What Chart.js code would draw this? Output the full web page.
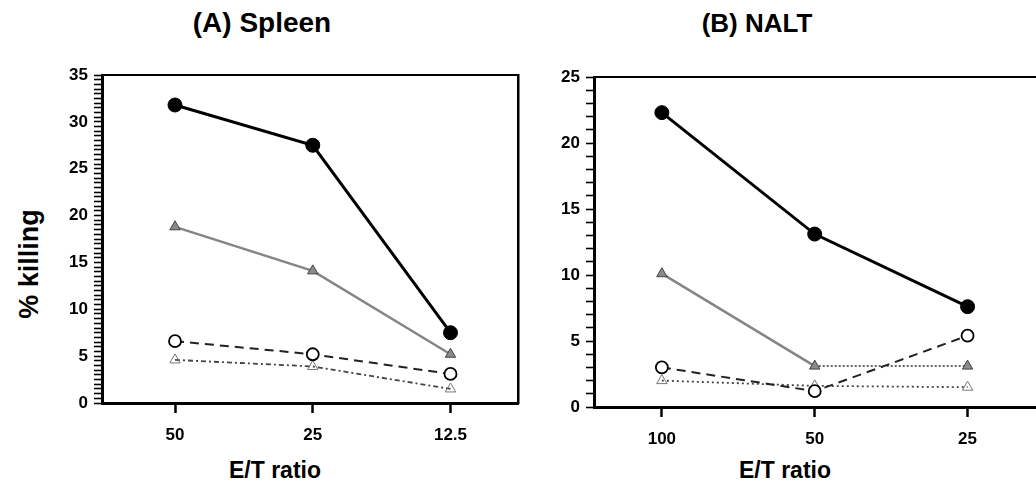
<!DOCTYPE html>
<html>
<head>
<meta charset="utf-8">
<script src="https://cdn.jsdelivr.net/npm/chart.js@4/dist/chart.umd.min.js"></script>
<style>
  html, body { margin:0; padding:0; background:#fff; overflow:hidden; width:1036px; height:495px; }
  .wrap { position:absolute; top:0; }
  .txt { position:absolute; transform:translate(-50%,-50%); font-family:"Liberation Sans", Arial, sans-serif; font-weight:bold; color:#000; white-space:nowrap; }
</style>
</head>
<body>
<div class="txt" style="left:262px; top:23px; font-size:28px;">(A) Spleen</div>
<div class="txt" style="left:757px; top:23px; font-size:26px;">(B) NALT</div>
<div class="txt" style="left:275px; top:470px; font-size:23px;">E/T ratio</div>
<div class="txt" style="left:785px; top:470px; font-size:23px;">E/T ratio</div>
<div class="txt" style="left:29px; top:264px; font-size:27px; transform:translate(-50%,-50%) rotate(-90deg);">% killing</div>
<div class="wrap" style="left:0px;"><canvas id="cA" width="560" height="495"></canvas></div>
<div class="wrap" style="left:560px;"><canvas id="cB" width="500" height="495"></canvas></div>
<script>
// ---- Data ----
const spleenRatios = ['50', '25', '12.5'];
const naltRatios = ['100', '50', '25'];

const spleenFilledCircle = [31.8, 27.5, 7.5];
const spleenHatchedTriangle = [18.8, 14.1, 5.2];
const spleenOpenCircle = [6.6, 5.2, 3.1];
const spleenOpenTriangle = [4.6, 3.9, 1.5];

const naltFilledCircle = [22.3, 13.1, 7.6];
const naltHatchedTriangle = [10.1, 3.1, 3.1];
const naltOpenCircle = [3.0, 1.2, 5.4];
const naltOpenTriangle = [2.0, 1.6, 1.5];

const spleenYMax = 35;
const naltYMax = 25;

// ---- Helpers ----
const FONT = '"Liberation Sans", Arial, sans-serif';
const pts = arr => arr.map((v, i) => ({ x: i, y: v }));

function datasets(filled, hatched, openC, openT, dottedSecondHatched) {
  return [
    { data: pts(filled), borderColor:'#000', borderWidth:3, pointStyle:'circle', pointRadius:7,
      pointBackgroundColor:'#000', pointBorderColor:'#000', pointBorderWidth:1 },
    { data: pts(hatched), borderColor:'#858585', borderWidth:2.5, pointStyle:'triangle', pointRadius:6,
      pointBackgroundColor:'#8a8a8a', pointBorderColor:'#444', pointBorderWidth:1,
      segment: dottedSecondHatched ? {
        borderDash: c => c.p0DataIndex === 1 ? [2, 2] : undefined,
        borderColor: c => c.p0DataIndex === 1 ? '#333' : undefined,
        borderWidth: c => c.p0DataIndex === 1 ? 1.5 : undefined
      } : undefined },
    { data: pts(openC), borderColor:'#222', borderWidth:2, borderDash:[9,6], pointStyle:'circle', pointRadius:6,
      pointBackgroundColor:'#fff', pointBorderColor:'#000', pointBorderWidth:1.8 },
    { data: pts(openT), borderColor:'#444', borderWidth:1.8, borderDash: dottedSecondHatched ? [2,3] : [5,3,2,3],
      pointStyle:'triangle', pointRadius:6,
      pointBackgroundColor:'rgba(255,255,255,0)', pointBorderColor:'#777', pointBorderWidth:1 }
  ];
}

function makeChart(id, cats, ds, yMax, yStep, geo) {
  const ctx = document.getElementById(id);
  return new Chart(ctx, {
    type: 'line',
    data: { datasets: ds.map(d => Object.assign({ fill:false, tension:0, clip:false }, d)) },
    options: {
      responsive:false, animation:false, devicePixelRatio:1,
      layout: { padding: { top: geo.top, right: geo.right, bottom: 0, left: 0 } },
      plugins: { legend:{ display:false }, tooltip:{ enabled:false }, title:{ display:false } },
      scales: {
        x: {
          type:'linear', position:'bottom', min: geo.xMin, max: geo.xMax,
          afterBuildTicks: s => { s.ticks = cats.map((c, i) => ({ value: i })); },
          afterFit: s => { s.height = geo.xHeight; },
          ticks: { callback: v => cats[v], color:'#000', padding:12, autoSkip:false, maxRotation:0,
                   font:{ family:FONT, size:17, weight:'bold' } },
          grid: { drawOnChartArea:false, drawTicks:true, tickLength:10, tickColor:'#000', tickWidth:2.5, color:'#000' },
          border: { display:true, color:'#000', width:3 }
        },
        y: {
          type:'linear', position:'left', min:0, max:yMax,
          afterFit: s => { s.width = geo.yWidth; },
          ticks: { stepSize: yStep, autoSkip:false, color:'#000', padding:6,
                   callback: v => (Math.abs(v / 5 - Math.round(v / 5)) < 1e-6 ? String(Math.round(v)) : ''),
                   font:{ family:FONT, size:17, weight:'bold' } },
          grid: { drawOnChartArea:false, drawTicks:true, tickLength:8, tickColor:'#000', tickWidth:1.6, color:'#000' },
          border: { display:true, color:'#000', width:3 }
        },
        xTop: {
          type:'linear', position:'top', min: geo.xMin, max: geo.xMax,
          afterFit: s => { s.height = 0; },
          ticks:{ display:false }, grid:{ display:false, drawTicks:false },
          border:{ display:true, color:'#000', width:2 }
        },
        yRight: {
          type:'linear', position:'right', min:0, max:yMax, display: geo.showRight,
          afterFit: s => { s.width = 0; },
          ticks:{ display:false }, grid:{ display:false, drawTicks:false },
          border:{ display:true, color:'#000', width:2.5 }
        }
      }
    }
  });
}

makeChart('cA', spleenRatios,
  datasets(spleenFilledCircle, spleenHatchedTriangle, spleenOpenCircle, spleenOpenTriangle, false),
  spleenYMax, 0.5,
  { top:75, right:42, xHeight:92, yWidth:102, xMin:-0.53, xMax:2.49, showRight:true });

makeChart('cB', naltRatios,
  datasets(naltFilledCircle, naltHatchedTriangle, naltOpenCircle, naltOpenTriangle, true),
  naltYMax, 1,
  { top:77, right:16, xHeight:88, yWidth:34, xMin:-0.444, xMax:2.5, showRight:false });
</script>
</body>
</html>
